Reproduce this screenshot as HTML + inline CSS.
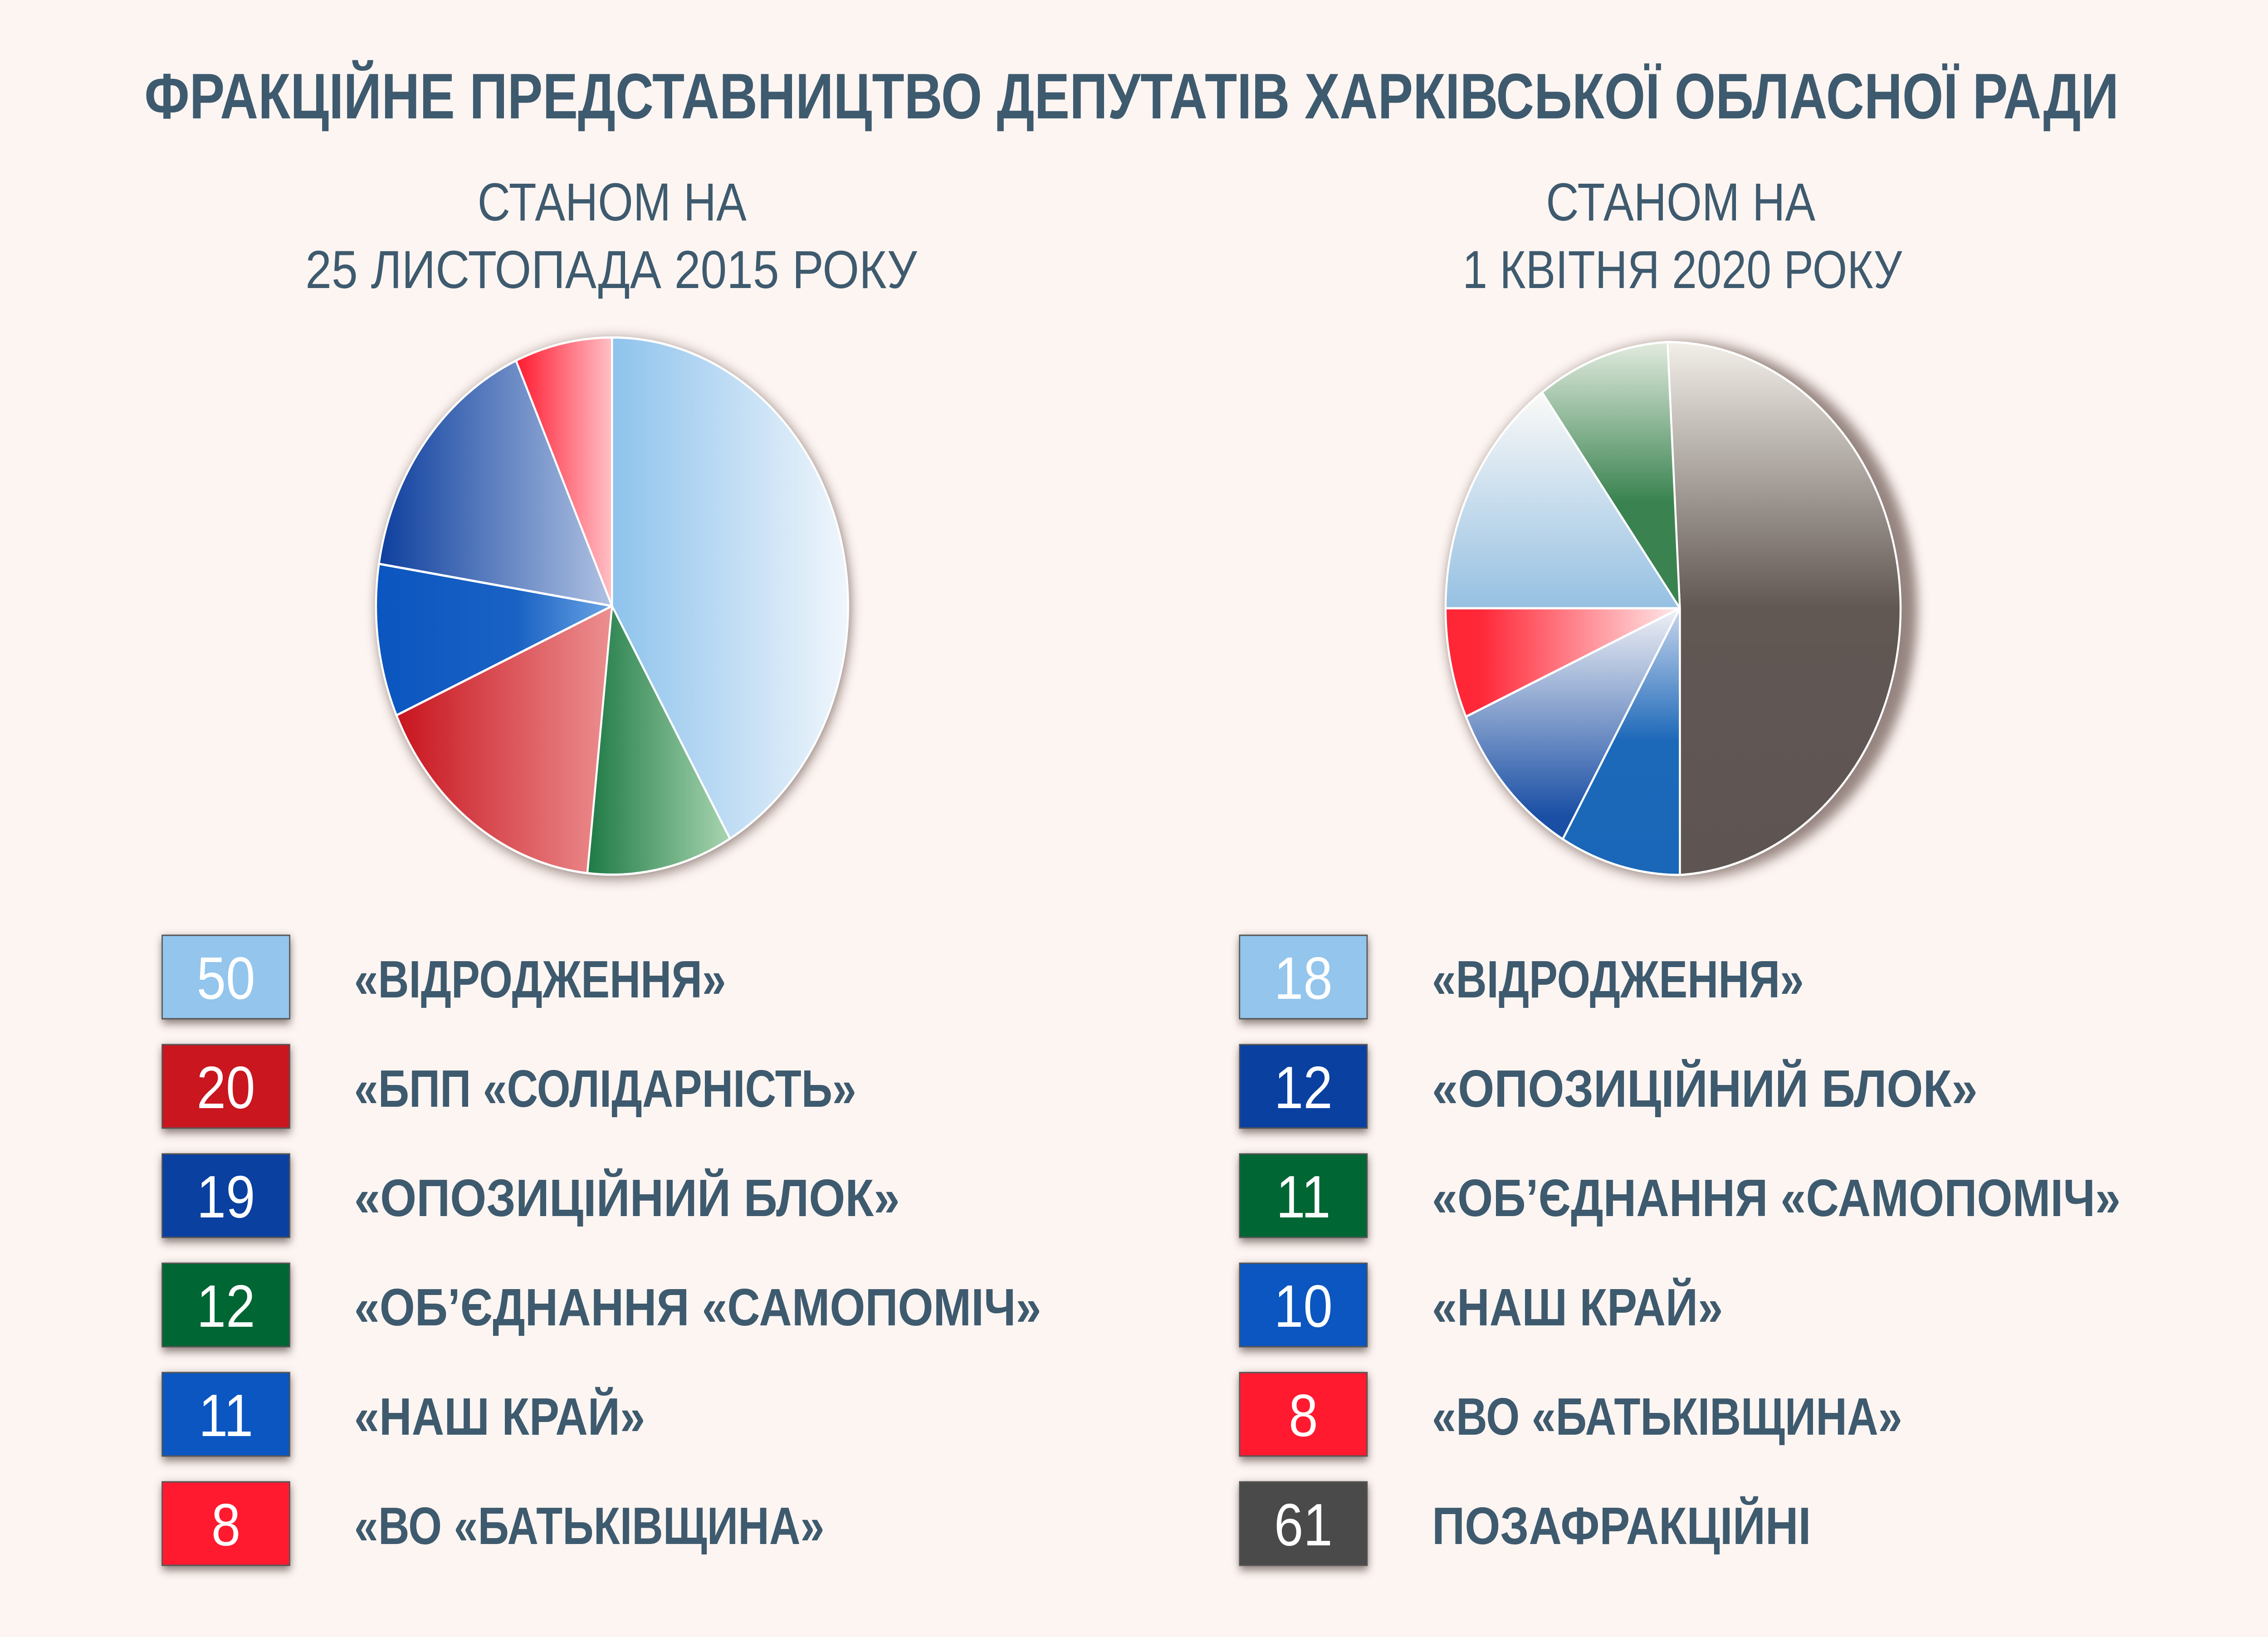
<!DOCTYPE html>
<html><head><meta charset="utf-8"><style>
html,body{margin:0;padding:0;background:#fdf5f2;overflow:hidden;width:100%;height:100%;}
svg{display:block;width:100vw;height:100vh;}
text{font-family:"Liberation Sans","DejaVu Sans",sans-serif;}
</style></head><body>
<svg viewBox="0 0 5692 3609" preserveAspectRatio="none" xmlns="http://www.w3.org/2000/svg">
<defs>
<filter id="sh" x="-20%" y="-20%" width="140%" height="140%"><feGaussianBlur stdDeviation="14"/></filter>
<filter id="bsh" x="-30%" y="-40%" width="160%" height="180%"><feGaussianBlur stdDeviation="10"/></filter>
<linearGradient id="l1" x1="0" y1="0" x2="1" y2="0"><stop offset="0" stop-color="#8ec3ec"/><stop offset="1" stop-color="#f0f6fc"/></linearGradient>
<linearGradient id="l2" x1="0" y1="0" x2="1" y2="0"><stop offset="0" stop-color="#1e7a45"/><stop offset="1" stop-color="#a8d5b0"/></linearGradient>
<linearGradient id="l3" x1="0" y1="0" x2="1" y2="0"><stop offset="0" stop-color="#c8141e"/><stop offset="1" stop-color="#ec8f90"/></linearGradient>
<linearGradient id="l4" x1="0" y1="0" x2="1" y2="0"><stop offset="0" stop-color="#0a55c0"/><stop offset="0.6" stop-color="#1a62c4"/><stop offset="1" stop-color="#6aa4e4"/></linearGradient>
<linearGradient id="l5" x1="0" y1="0" x2="1" y2="0"><stop offset="0" stop-color="#0d3f9e"/><stop offset="1" stop-color="#b0c2e2"/></linearGradient>
<linearGradient id="l6" x1="0" y1="0" x2="1" y2="0"><stop offset="0" stop-color="#ff1a30"/><stop offset="1" stop-color="#ffc0c6"/></linearGradient>
<linearGradient id="r1" x1="0" y1="0" x2="0" y2="1"><stop offset="0" stop-color="#f2eee8"/><stop offset="0.5" stop-color="#615753"/><stop offset="1" stop-color="#5e5553"/></linearGradient>
<linearGradient id="r2" x1="0" y1="0" x2="0" y2="1"><stop offset="0" stop-color="#e2ebdf"/><stop offset="0.6" stop-color="#3a8350"/><stop offset="1" stop-color="#3a8350"/></linearGradient>
<linearGradient id="r3" x1="0" y1="0" x2="0" y2="1"><stop offset="0" stop-color="#fbfaf8"/><stop offset="1" stop-color="#95c0e2"/></linearGradient>
<linearGradient id="r4" x1="0" y1="0" x2="1" y2="0"><stop offset="0" stop-color="#ff2535"/><stop offset="0.15" stop-color="#ff2838"/><stop offset="1" stop-color="#ffeaea"/></linearGradient>
<linearGradient id="r5" x1="0" y1="0" x2="0" y2="1"><stop offset="0" stop-color="#f0f1f5"/><stop offset="0.9" stop-color="#1a4fa5"/><stop offset="1" stop-color="#1a4fa5"/></linearGradient>
<linearGradient id="r6" x1="0" y1="0" x2="0" y2="1"><stop offset="0" stop-color="#c8d6ec"/><stop offset="0.5" stop-color="#1c68b9"/><stop offset="1" stop-color="#1a66b8"/></linearGradient>
</defs>
<rect width="5692" height="3609" fill="#fdf5f2"/>

<text x="2840" y="261" text-anchor="middle" font-size="142" font-weight="bold" fill="#3e5a6e" textLength="4955" lengthAdjust="spacingAndGlyphs">ФРАКЦІЙНЕ ПРЕДСТАВНИЦТВО ДЕПУТАТІВ ХАРКІВСЬКОЇ ОБЛАСНОЇ РАДИ</text>
<g font-size="118" fill="#3e5a6e" text-anchor="middle">
<text x="1536" y="486" textLength="675" lengthAdjust="spacingAndGlyphs">СТАНОМ НА</text>
<text x="1534" y="635" textLength="1535" lengthAdjust="spacingAndGlyphs">25 ЛИСТОПАДА 2015 РОКУ</text>
<text x="4218" y="486" textLength="676" lengthAdjust="spacingAndGlyphs">СТАНОМ НА</text>
<text x="4222" y="635" textLength="1103" lengthAdjust="spacingAndGlyphs">1 КВІТНЯ 2020 РОКУ</text>
</g>

<circle cx="1540" cy="1342" r="596" fill="#6b5550" opacity="0.7" filter="url(#sh)"/>
<g stroke="#ffffff" stroke-width="5" stroke-linejoin="round">
<path d="M1536 1336 L1536 744 A592 592 0 0 1 1832 1849 Z" fill="url(#l1)"/>
<path d="M1536 1336 L1832 1849 A592 592 0 0 1 1474 1925 Z" fill="url(#l2)"/>
<path d="M1536 1336 L1474 1925 A592 592 0 0 1 995 1577 Z" fill="url(#l3)"/>
<path d="M1536 1336 L995 1577 A592 592 0 0 1 951 1243 Z" fill="url(#l4)"/>
<path d="M1536 1336 L951 1243 A592 592 0 0 1 1295 795 Z" fill="url(#l5)"/>
<path d="M1536 1336 L1295 795 A592 592 0 0 1 1536 744 Z" fill="url(#l6)"/>
</g>

<circle cx="4220" cy="1346" r="592" fill="#6b5550" opacity="0.7" filter="url(#sh)"/>
<g stroke="#ffffff" stroke-width="5" stroke-linejoin="round">
<path d="M4216 1341 L4185 754 A588 588 0 0 1 4216 1929 Z" fill="url(#r1)"/>
<path d="M4216 1341 L4216 1929 A588 588 0 0 1 3922 1850 Z" fill="url(#r6)"/>
<path d="M4216 1341 L3922 1850 A588 588 0 0 1 3679 1580 Z" fill="url(#r5)"/>
<path d="M4216 1341 L3679 1580 A588 588 0 0 1 3628 1341 Z" fill="url(#r4)"/>
<path d="M4216 1341 L3628 1341 A588 588 0 0 1 3870 865 Z" fill="url(#r3)"/>
<path d="M4216 1341 L3870 865 A588 588 0 0 1 4185 754 Z" fill="url(#r2)"/>
</g>

<g>
<g filter="url(#bsh)" fill="#5a4a45" opacity="0.75">
<rect x="407" y="2068" width="322" height="188"/><rect x="407" y="2309" width="322" height="188"/><rect x="407" y="2550" width="322" height="188"/><rect x="407" y="2791" width="322" height="188"/><rect x="407" y="3032" width="322" height="188"/><rect x="407" y="3273" width="322" height="188"/>
<rect x="3111" y="2068" width="322" height="188"/><rect x="3111" y="2309" width="322" height="188"/><rect x="3111" y="2550" width="322" height="188"/><rect x="3111" y="2791" width="322" height="188"/><rect x="3111" y="3032" width="322" height="188"/><rect x="3111" y="3273" width="322" height="188"/>
</g>
<g stroke="#555" stroke-width="3">
<rect x="407" y="2062" width="320" height="184" fill="#93c5ed"/>
<rect x="407" y="2303" width="320" height="184" fill="#c9161f"/>
<rect x="407" y="2544" width="320" height="184" fill="#0a40a0"/>
<rect x="407" y="2785" width="320" height="184" fill="#006634"/>
<rect x="407" y="3026" width="320" height="184" fill="#0b56c0"/>
<rect x="407" y="3267" width="320" height="184" fill="#ff1a30"/>
<rect x="3111" y="2062" width="320" height="184" fill="#93c5ed"/>
<rect x="3111" y="2303" width="320" height="184" fill="#0a40a0"/>
<rect x="3111" y="2544" width="320" height="184" fill="#006634"/>
<rect x="3111" y="2785" width="320" height="184" fill="#0b56c0"/>
<rect x="3111" y="3026" width="320" height="184" fill="#ff1a30"/>
<rect x="3111" y="3267" width="320" height="184" fill="#4a4a4a"/>
</g>
</g>
<g font-size="132" fill="#ffffff" text-anchor="middle">
<text x="567" y="2202">50</text><text x="567" y="2443">20</text><text x="567" y="2684">19</text><text x="567" y="2925">12</text><text x="567" y="3166">11</text><text x="567" y="3407">8</text>
<text x="3271" y="2202">18</text><text x="3271" y="2443">12</text><text x="3271" y="2684">11</text><text x="3271" y="2925">10</text><text x="3271" y="3166">8</text><text x="3271" y="3407">61</text>
</g>
<g font-size="116" font-weight="bold" fill="#3e5a6e">
<text x="889" y="2199" textLength="933" lengthAdjust="spacingAndGlyphs">«ВІДРОДЖЕННЯ»</text>
<text x="889" y="2440" textLength="1260" lengthAdjust="spacingAndGlyphs">«БПП «СОЛІДАРНІСТЬ»</text>
<text x="889" y="2681" textLength="1369" lengthAdjust="spacingAndGlyphs">«ОПОЗИЦІЙНИЙ БЛОК»</text>
<text x="889" y="2922" textLength="1724" lengthAdjust="spacingAndGlyphs">«ОБ’ЄДНАННЯ «САМОПОМІЧ»</text>
<text x="889" y="3163" textLength="730" lengthAdjust="spacingAndGlyphs">«НАШ КРАЙ»</text>
<text x="889" y="3404" textLength="1180" lengthAdjust="spacingAndGlyphs">«ВО «БАТЬКІВЩИНА»</text>
<text x="3594" y="2199" textLength="933" lengthAdjust="spacingAndGlyphs">«ВІДРОДЖЕННЯ»</text>
<text x="3594" y="2440" textLength="1369" lengthAdjust="spacingAndGlyphs">«ОПОЗИЦІЙНИЙ БЛОК»</text>
<text x="3594" y="2681" textLength="1728" lengthAdjust="spacingAndGlyphs">«ОБ’ЄДНАННЯ «САМОПОМІЧ»</text>
<text x="3594" y="2922" textLength="730" lengthAdjust="spacingAndGlyphs">«НАШ КРАЙ»</text>
<text x="3594" y="3163" textLength="1180" lengthAdjust="spacingAndGlyphs">«ВО «БАТЬКІВЩИНА»</text>
<text x="3594" y="3404" textLength="951" lengthAdjust="spacingAndGlyphs">ПОЗАФРАКЦІЙНІ</text>
</g>
</svg>
</body></html>
